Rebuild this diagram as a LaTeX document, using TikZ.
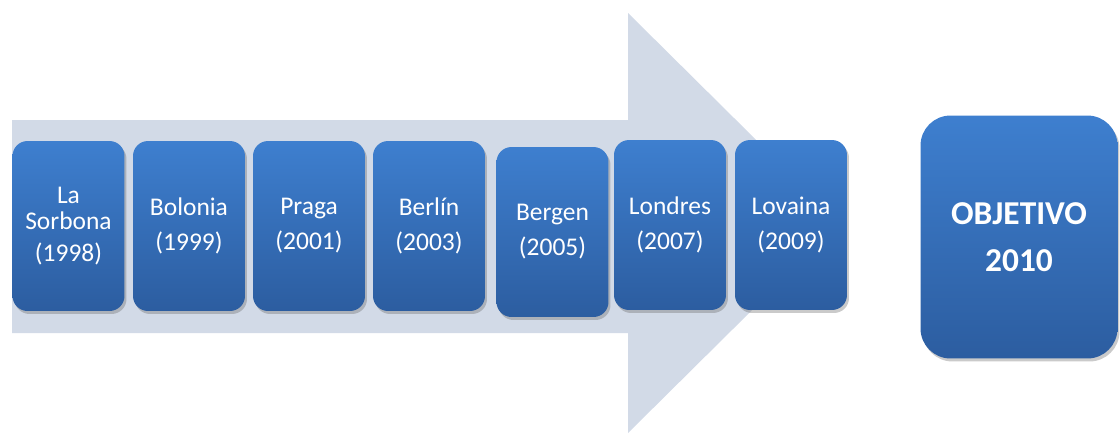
\documentclass[tikz,border=0pt]{standalone}
\usepackage{fontspec}
\setmainfont{Carlito}
\usetikzlibrary{shadows}
\definecolor{arrowfill}{RGB}{210,218,231}
\definecolor{boxtop}{RGB}{62,127,207}
\definecolor{boxbot}{RGB}{44,93,160}
\tikzset{
  stage/.style={rounded corners=0.3cm, minimum width=2.24cm, minimum height=3.4cm,
    top color=boxtop, bottom color=boxbot, draw=none, text=white, align=center,
    font=\fontsize{14.5}{20}\selectfont,
    drop shadow={shadow xshift=0.04cm, shadow yshift=-0.06cm, opacity=0.35, fill=black!60}},
  goal/.style={stage, rounded corners=0.6cm, minimum width=3.94cm, minimum height=4.86cm,
    font=\fontsize{19}{27}\selectfont\bfseries}
}
\begin{document}
\begin{tikzpicture}[x=0.02cm, y=-0.02cm]
\useasboundingbox (0,0) rectangle (1120,437);
% large background arrow
\fill[arrowfill] (12,120) -- (628,120) -- (628,13) -- (840,223) -- (628,433)
  -- (628,333) -- (12,333) -- cycle;
% stages
\node[stage, font=\fontsize{14.5}{15}\selectfont] (sorbona) at (68.5,226) {La\\Sorbona\\[3pt](1998)};
\node[stage] (bolonia) at (189,226) {Bolonia\\(1999)};
\node[stage] (praga)   at (309,226) {Praga\\(2001)};
\node[stage] (berlin)  at (429,226) {Berlín\\(2003)};
\node[stage] (bergen)  at (552.5,232) {Bergen\\(2005)};
\node[stage] (londres) at (670,225) {Londres\\(2007)};
\node[stage] (lovaina) at (791,225) {Lovaina\\(2009)};
% goal
\node[goal] (objetivo) at (1019,237) {OBJETIVO\\2010};
\end{tikzpicture}
\end{document}
